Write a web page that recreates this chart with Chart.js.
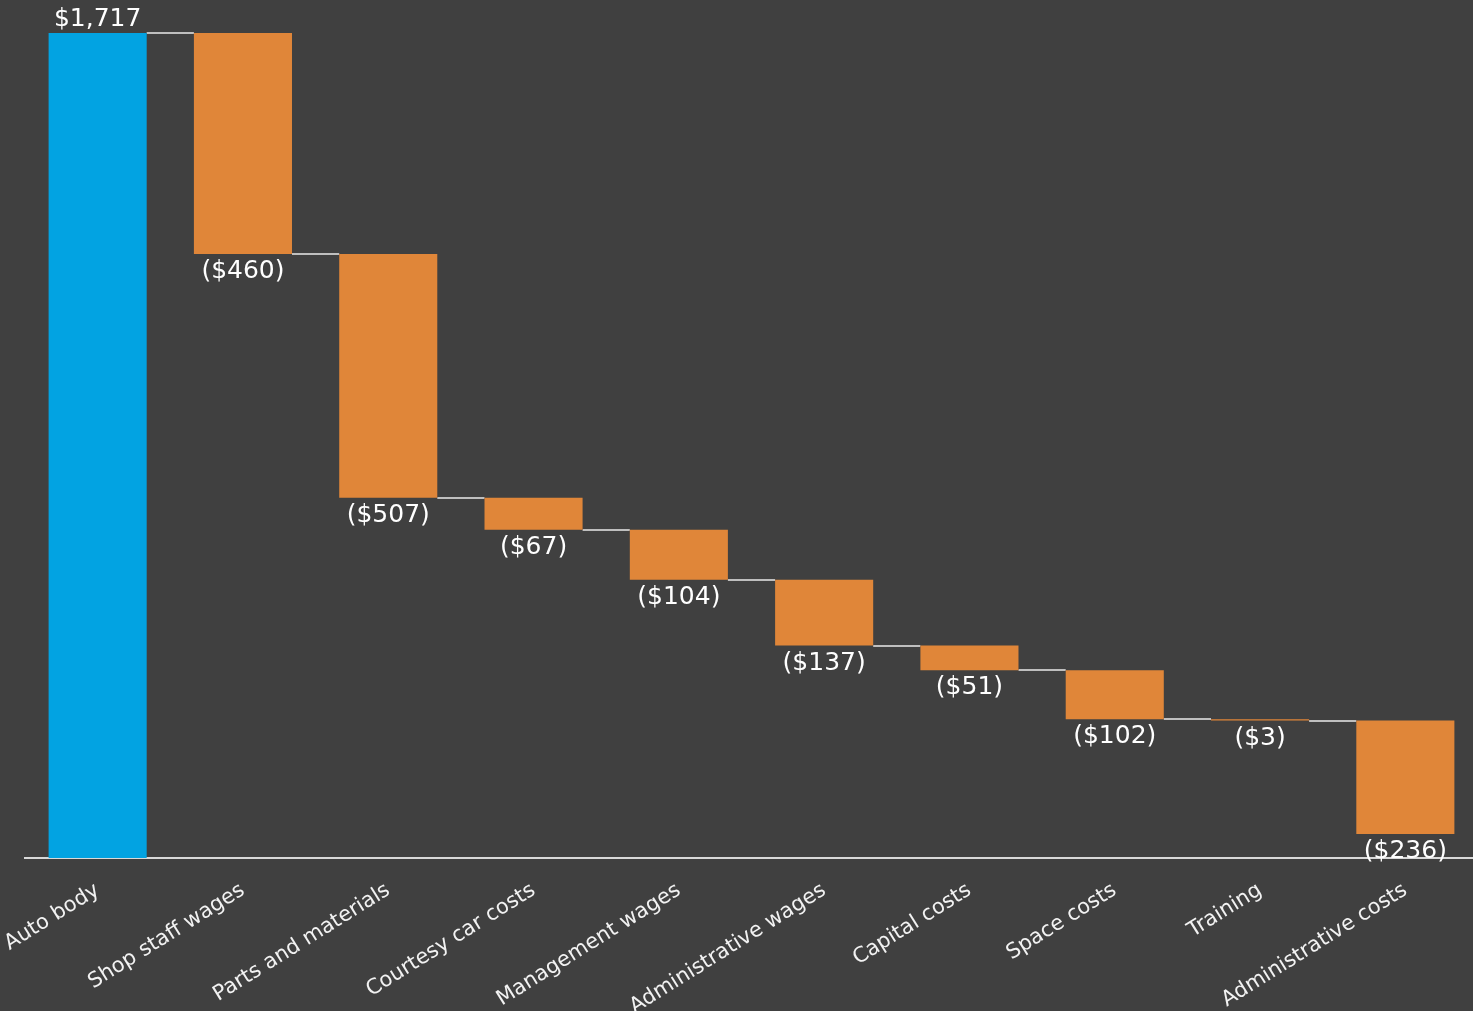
<!DOCTYPE html>
<html>
<head>
<meta charset="utf-8">
<script src="https://cdn.jsdelivr.net/npm/chart.js@4"></script>
<style>
  html, body { margin: 0; padding: 0; background: #404040; overflow: hidden; }
  canvas { display: block; }
</style>
</head>
<body>
<canvas id="chartCascata" width="1478" height="1011"></canvas>
<script>
var categorias = ['Auto body', 'Shop staff wages', 'Parts and materials', 'Courtesy car costs',
  'Management wages', 'Administrative wages', 'Capital costs', 'Space costs', 'Training',
  'Administrative costs'];
var valores = [1717, -460, -507, -67, -104, -137, -51, -102, -3, -236];

var corTotal = '#02a3e2';
var corCusto = '#e08639';

// monta os intervalos flutuantes [base, topo] a partir dos valores
var intervalos = [];
var acumulado = 0;
for (var i = 0; i < valores.length; i++) {
  var novo = acumulado + valores[i];
  intervalos.push([Math.min(acumulado, novo), Math.max(acumulado, novo)]);
  acumulado = novo;
}
var cores = valores.map(function (v, i) { return i === 0 ? corTotal : corCusto; });

function formata(v) {
  var s = '$' + Math.abs(v).toLocaleString('en-US');
  return v < 0 ? '(' + s + ')' : s;
}

var pluginLigacoes = {
  id: 'ligacoes',
  beforeDatasetsDraw: function (chart) {
    var ctx = chart.ctx;
    var meta = chart.getDatasetMeta(0);
    var y = chart.scales.y;
    ctx.save();
    ctx.strokeStyle = '#bfbfbf';
    ctx.lineWidth = 2;
    var nivel = 0;
    for (var i = 0; i < valores.length - 1; i++) {
      nivel += valores[i];
      var a = meta.data[i], b = meta.data[i + 1];
      var py = Math.round(y.getPixelForValue(nivel));
      ctx.beginPath();
      ctx.moveTo(a.x + a.width / 2, py);
      ctx.lineTo(b.x - b.width / 2, py);
      ctx.stroke();
    }
    ctx.restore();
  }
};

var pluginRotulos = {
  id: 'rotulos',
  afterDatasetsDraw: function (chart) {
    var ctx = chart.ctx;
    var meta = chart.getDatasetMeta(0);
    ctx.save();
    ctx.fillStyle = '#ffffff';
    ctx.font = '25px "DejaVu Sans"';
    ctx.textAlign = 'center';
    for (var i = 0; i < valores.length; i++) {
      var el = meta.data[i];
      var topo = Math.min(el.y, el.base);
      var fundo = Math.max(el.y, el.base);
      if (valores[i] >= 0) {
        ctx.textBaseline = 'bottom';
        ctx.fillText(formata(valores[i]), el.x, topo - 1);
      } else {
        ctx.textBaseline = 'top';
        ctx.fillText(formata(valores[i]), el.x, fundo + 5);
      }
    }
    ctx.restore();
  }
};

var ctxCascata = document.getElementById('chartCascata').getContext('2d');

var configCascata = {
  type: 'bar',
  data: {
    labels: categorias,
    datasets: [{
      data: intervalos,
      backgroundColor: cores,
      borderWidth: 0,
      barPercentage: 0.675,
      categoryPercentage: 1
    }]
  },
  options: {
    responsive: false,
    animation: false,
    layout: { padding: { top: 33, left: 25, right: 0, bottom: 0 } },
    plugins: {
      legend: { display: false },
      tooltip: { enabled: false }
    },
    scales: {
      x: {
        grid: { display: false, drawTicks: false },
        border: { display: true, color: '#d9d9d9', width: 2 },
        ticks: {
          color: '#f2f2f2',
          font: { family: 'DejaVu Sans', size: 21 },
          minRotation: 32,
          maxRotation: 32,
          padding: 20
        },
        afterFit: function (scale) {
          scale.height = 153;
          scale.paddingLeft = 0;
          scale.paddingRight = 0;
        }
      },
      y: {
        display: false,
        min: 0,
        max: 1717
      }
    }
  },
  plugins: [pluginLigacoes, pluginRotulos]
};

var chartCascata = new Chart(ctxCascata, configCascata);
</script>
</body>
</html>
